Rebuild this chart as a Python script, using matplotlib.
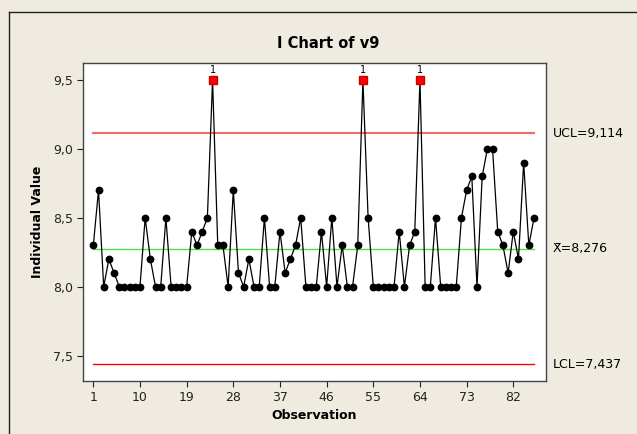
import numpy as np
import matplotlib.pyplot as plt
plt.switch_backend('agg')
from matplotlib.lines import Line2D

# individual values v9, observations 1..86
v9 = [8.3, 8.7, 8.0, 8.2, 8.1, 8.0, 8.0, 8.0, 8.0, 8.0,
      8.5, 8.2, 8.0, 8.0, 8.5, 8.0, 8.0, 8.0, 8.0, 8.4,
      8.3, 8.4, 8.5, 9.5, 8.3, 8.3, 8.0, 8.7, 8.1, 8.0,
      8.2, 8.0, 8.0, 8.5, 8.0, 8.0, 8.4, 8.1, 8.2, 8.3,
      8.5, 8.0, 8.0, 8.0, 8.4, 8.0, 8.5, 8.0, 8.3, 8.0,
      8.0, 8.3, 9.5, 8.5, 8.0, 8.0, 8.0, 8.0, 8.0, 8.4,
      8.0, 8.3, 8.4, 9.5, 8.0, 8.0, 8.5, 8.0, 8.0, 8.0,
      8.0, 8.5, 8.7, 8.8, 8.0, 8.8, 9.0, 9.0, 8.4, 8.3,
      8.1, 8.4, 8.2, 8.9, 8.3, 8.5]
ucl = 9.114
lcl = 7.437
x_ticks = [1, 10, 19, 28, 37, 46, 55, 64, 73, 82]
y_ticks = [7.5, 8.0, 8.5, 9.0, 9.5]

obs = np.arange(1, len(v9) + 1)
vals = np.array(v9)
mean = vals.mean()

bg = '#efebe0'
fig = plt.figure(figsize=(6.37, 4.34), dpi=100, facecolor=bg)
ax = fig.add_axes([83/637, 1 - 381/434, 463/637, 317.7/434])
ax.set_facecolor('white')

ax.plot([1, len(v9)], [ucl, ucl], color='#f26b6b', lw=1.5, zorder=1)
ax.plot([1, len(v9)], [lcl, lcl], color='#ff0000', lw=1.0, zorder=1)
ax.plot([1, len(v9)], [mean, mean], color='#4ee04e', lw=1.0, zorder=1)

ax.plot(obs, vals, color='black', lw=0.9, marker='o', ms=4.6, zorder=2)
out = (vals > ucl) | (vals < lcl)
ax.plot(obs[out], vals[out], ls='none', marker='s', ms=5.2, color='#ff0000',
        markeredgecolor='#cc0000', zorder=3)
for xo, yo in zip(obs[out], vals[out]):
    ax.text(xo, yo + 0.035, '1', ha='center', va='bottom', fontsize=7, color='black')

ax.set_xlim(-0.99, 88.31)
ax.set_ylim(7.316, 9.621)
ax.set_xticks(x_ticks)
ax.set_xticklabels([str(t) for t in x_ticks], fontsize=9)
ax.set_yticks(y_ticks)
ax.set_yticklabels([('%.1f' % t).replace('.', ',') for t in y_ticks], fontsize=9)
ax.tick_params(direction='out', length=4, width=0.8, colors='#222222', pad=3)
for s in ax.spines.values():
    s.set_color('#444444')
    s.set_linewidth(1.0)

ax.set_xlabel('Observation', fontsize=9, fontweight='bold', labelpad=4)
ax.set_ylabel('Individual Value', fontsize=9, fontweight='bold', labelpad=7)
fig.text(328/637, 1 - 43/434, 'I Chart of v9', fontsize=10.5, fontweight='bold',
         ha='center', va='center')

for v, txt in [(ucl, 'UCL=9,114'), (mean, 'X\u0304=8,276'), (lcl, 'LCL=7,437')]:
    ax.annotate(txt, xy=(1.0, v), xycoords=('axes fraction', 'data'),
                xytext=(5, 0), textcoords='offset points', ha='left', va='center',
                fontsize=9, annotation_clip=False)

# outer frame
fig.add_artist(Line2D([9/637, 9/637], [0, 1 - 12/434], color='#222222', lw=1.0))
fig.add_artist(Line2D([9/637, 1], [1 - 12/434, 1 - 12/434], color='#222222', lw=1.0))

fig.savefig('out.png', dpi=100, facecolor=bg)
